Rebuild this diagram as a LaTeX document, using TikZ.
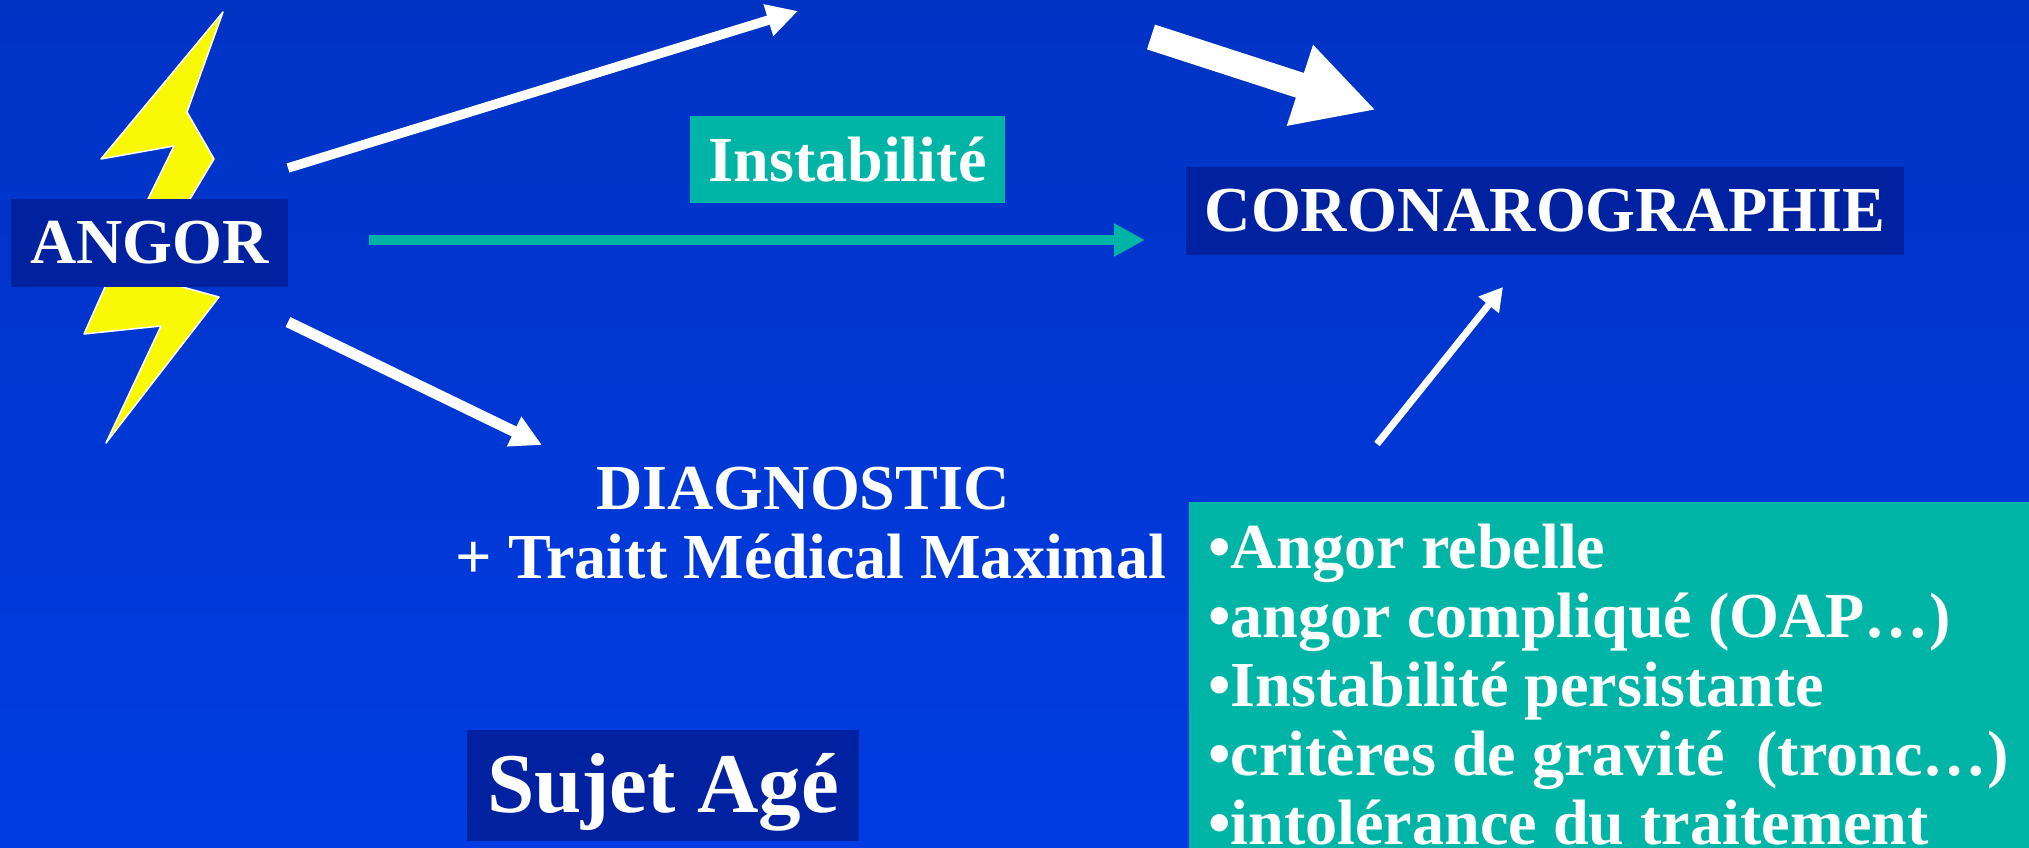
\documentclass[tikz,border=0pt]{standalone}
\usepackage{fontspec}
\usepackage{tikz}
\setmainfont{Liberation Serif}
\usetikzlibrary{arrows.meta}
\usetikzlibrary{positioning,calc}
\definecolor{slidetop}{RGB}{0,51,196}
\definecolor{slidemid}{RGB}{0,57,218}
\definecolor{slidebottom}{RGB}{0,60,226}
\definecolor{boxnavy}{RGB}{0,33,160}
\definecolor{boxteal}{RGB}{0,181,166}
\definecolor{boltyellow}{RGB}{249,249,6}
\tikzset{
	every node/.style={font=\bfseries\fontsize{18.25pt}{19.63pt}\selectfont,text=white,inner sep=0pt}
}
\tikzset{
	navy node/.style={fill=boxnavy},
	teal node/.style={fill=boxteal},
	bolt/.style={fill=boltyellow,draw=white,line width=0.15mm,line join=round}
}
\tikzset{
	thin arrow/.style={draw=white,line width=0.95mm,-{Triangle[length=3.1mm,width=3.1mm]}},
	fat arrow/.style={draw=white,line width=2.6mm,-{Triangle[length=8mm,width=7.9mm]}},
	small arrow/.style={draw=white,line width=0.7mm,-{Triangle[length=2.3mm,width=2.5mm]}},
	green arrow/.style={draw=boxteal,line width=1mm,-{Triangle[length=3.1mm,width=3.1mm]}}
}

\begin{document}
\begin{tikzpicture}[x=0.1mm,y=-0.1mm]
      \clip (0,0) rectangle (2029,848);
      \path[use as bounding box,top color=slidetop,middle color=slidemid,bottom color=slidebottom] (0,0) rectangle (2029,848);
      \draw[bolt] (223,12) -- (187,112) -- (214,159) -- (190,199) -- (175,285) -- (219,297)
        -- (106,443) -- (161,326) -- (84,334) -- (105,287) -- (148,199) -- (174,146) -- (101,159) -- cycle;
      \node[navy node,minimum width=27.7mm,minimum height=8.8mm] (angor) at (149.5,243) {ANGOR};
      \node[navy node,minimum width=71.8mm,minimum height=8.8mm] (coro) at (1545,211) {CORONAROGRAPHIE};
      \node[teal node,minimum width=31.5mm,minimum height=8.7mm] (instab) at (847.5,159.5) {Instabilité};
      \node[navy node,minimum width=39.2mm,minimum height=11.1mm,text height=7mm,text depth=1.7mm,font=\bfseries\fontsize{24.2pt}{26pt}\selectfont] (sujet) at (663,785.5) {Sujet Agé};
      \node[align=center] (diag) at (811,523) {DIAGNOSTIC\hspace*{1.6mm}\\+ Traitt Médical Maximal};
      \node[teal node,anchor=north west,align=flush left,text width=82mm,inner xsep=1.95mm,inner ysep=2.2mm,minimum width=84.1mm] (crit) at (1188,501)
        {•Angor rebelle\\•angor compliqué (OAP…)\\•Instabilité persistante\\•critères de gravité\ \ (tronc…)\\•intolérance du traitement};
      \coordinate (upstart) at (288,168);
      \coordinate (upend) at (798,11);
      \coordinate (fatstart) at (1151,37);
      \coordinate (fatend) at (1376,110);
      \coordinate (midstart) at (369,240);
      \coordinate (midend) at (1145,240);
      \coordinate (lowstart) at (288,322);
      \coordinate (lowend) at (542,445);
      \coordinate (critstart) at (1377,444);
      \coordinate (critend) at (1503,287);
      \path (upstart) edge[thin arrow] (upend);
      \path (fatstart) edge[fat arrow] (fatend);
      \path (midstart) edge[green arrow] (midend);
      \path (lowstart) edge[thin arrow,line width=1.1mm] (lowend);
      \path (critstart) edge[small arrow] (critend);
    \end{tikzpicture}
\end{document}
